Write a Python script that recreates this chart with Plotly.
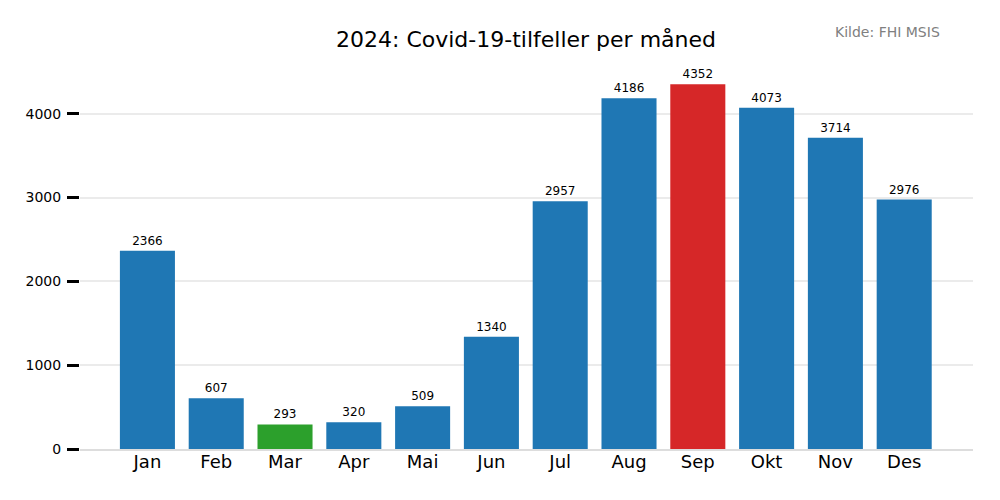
import plotly.graph_objects as go

months = ["Jan", "Feb", "Mar", "Apr", "Mai", "Jun", "Jul", "Aug", "Sep", "Okt", "Nov", "Des"]
cases = [2366, 607, 293, 320, 509, 1340, 2957, 4186, 4352, 4073, 3714, 2976]
colors = ["#1f77b4", "#1f77b4", "#2ca02c", "#1f77b4", "#1f77b4", "#1f77b4",
          "#1f77b4", "#1f77b4", "#d62728", "#1f77b4", "#1f77b4", "#1f77b4"]
ytick_vals = [0, 1000, 2000, 3000, 4000]

fig = go.Figure()
fig.add_trace(go.Bar(
    x=list(range(len(months))), y=cases, marker_color=colors, marker_line_width=0,
    width=0.8, text=[str(v) for v in cases], textposition="outside",
    textfont=dict(size=12, color="black"), cliponaxis=False,
))

fig.update_layout(
    width=1000, height=500,
    margin=dict(l=80, r=27, t=66, b=51),
    plot_bgcolor="white", paper_bgcolor="white",
    font=dict(family="DejaVu Sans", color="black"),
    showlegend=False,
    title=dict(text="2024: Covid-19-tilfeller per måned", x=0.526, xanchor="center",
               y=0.922, yanchor="middle", font=dict(size=22, color="black")),
    bargap=0.2,
    annotations=[dict(text="Kilde: FHI MSIS", xref="paper", yref="paper", x=0.965, y=1.089,
                      xanchor="right", yanchor="middle", showarrow=False,
                      font=dict(size=14, color="#808080"))],
)
fig.update_xaxes(
    range=[-0.98, 12.0], tickmode="array", tickvals=list(range(len(months))), ticktext=months,
    tickfont=dict(size=18), showgrid=False, zeroline=False, ticks="",
    ticklabelstandoff=-5,
    showline=True, linecolor="#dddddd", linewidth=2,
)
fig.update_yaxes(
    range=[0, 4570], tickvals=ytick_vals, tickfont=dict(size=14),
    showgrid=True, gridcolor="#ebebeb", gridwidth=1.5, zeroline=False,
    ticks="outside", ticklen=12, tickwidth=3, tickcolor="black", showline=False,
    ticklabelstandoff=3,
)

fig.write_html("out.html", config={"displayModeBar": False},
               post_script="document.body.style.margin='0px';")
